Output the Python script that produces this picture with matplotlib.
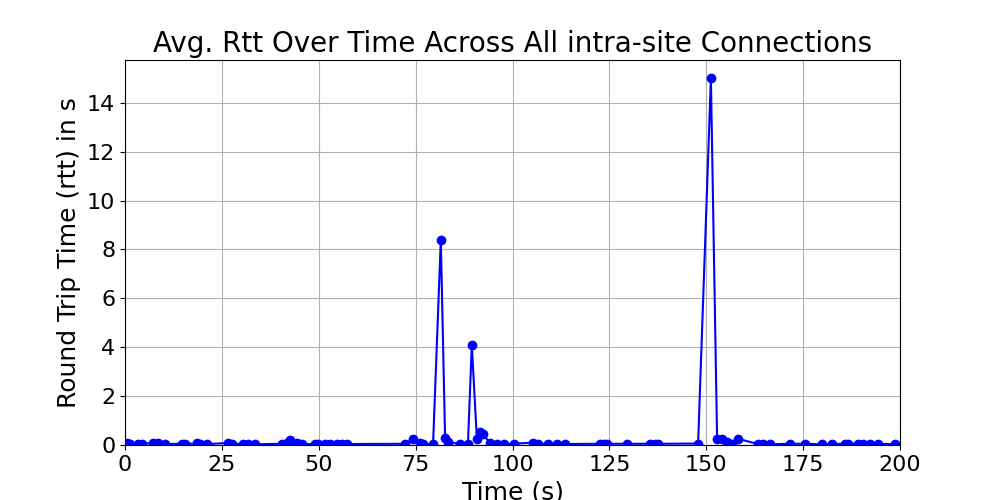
import matplotlib
matplotlib.use("Agg")
import matplotlib.pyplot as plt

time_s = [0.5, 1.3, 3.4, 4.4, 7.2, 8.5, 10.3, 14.7, 15.5, 18.6, 19.4, 21.2,
          26.6, 27.6, 30.5, 31.7, 33.5, 40.5, 41.8, 42.6, 44.4, 45.7, 49.0,
          49.8, 51.6, 52.9, 54.7, 56.0, 57.3, 72.3, 74.3, 76.1, 76.9, 79.5,
          81.5, 82.6, 83.4, 86.5, 88.5, 89.5, 90.8, 91.6, 92.4, 94.2, 96.0,
          97.8, 100.4, 105.3, 106.6, 109.2, 111.5, 113.5, 122.6, 123.6, 124.4,
          129.5, 135.5, 136.8, 137.5, 147.9, 151.2, 152.8, 154.1, 155.4, 156.6,
          158.2, 163.4, 164.6, 166.5, 171.6, 175.5, 179.9, 182.5, 185.8, 186.6,
          189.2, 190.5, 192.3, 194.3, 198.7]
rtt_s = [0.08, 0.05, 0.04, 0.05, 0.08, 0.07, 0.04, 0.05, 0.04, 0.07, 0.05, 0.04,
         0.08, 0.05, 0.04, 0.05, 0.03, 0.05, 0.1, 0.2, 0.08, 0.05, 0.03,
         0.04, 0.05, 0.05, 0.04, 0.05, 0.04, 0.05, 0.25, 0.1, 0.05, 0.03,
         8.4, 0.3, 0.12, 0.04, 0.05, 4.1, 0.25, 0.55, 0.45, 0.07, 0.06,
         0.03, 0.05, 0.1, 0.05, 0.04, 0.04, 0.04, 0.05, 0.06, 0.05,
         0.05, 0.05, 0.06, 0.05, 0.06, 15.0, 0.25, 0.25, 0.12, 0.06,
         0.25, 0.04, 0.04, 0.03, 0.05, 0.05, 0.03, 0.04, 0.05, 0.05,
         0.05, 0.05, 0.05, 0.05, 0.03]

fig, ax = plt.subplots(figsize=(10, 5), dpi=100)
ax.plot(time_s, rtt_s, marker='o', color='blue', linestyle='-')
ax.set_title('Avg. Rtt Over Time Across All intra-site Connections', fontsize=20)
ax.set_xlabel('Time (s)', fontsize=18)
ax.set_ylabel('Round Trip Time (rtt) in s', fontsize=18)
ax.tick_params(labelsize=16)
ax.grid(True)
ax.set_xlim(0, 200)
ax.set_ylim(bottom=0)
fig.savefig('out.png')
